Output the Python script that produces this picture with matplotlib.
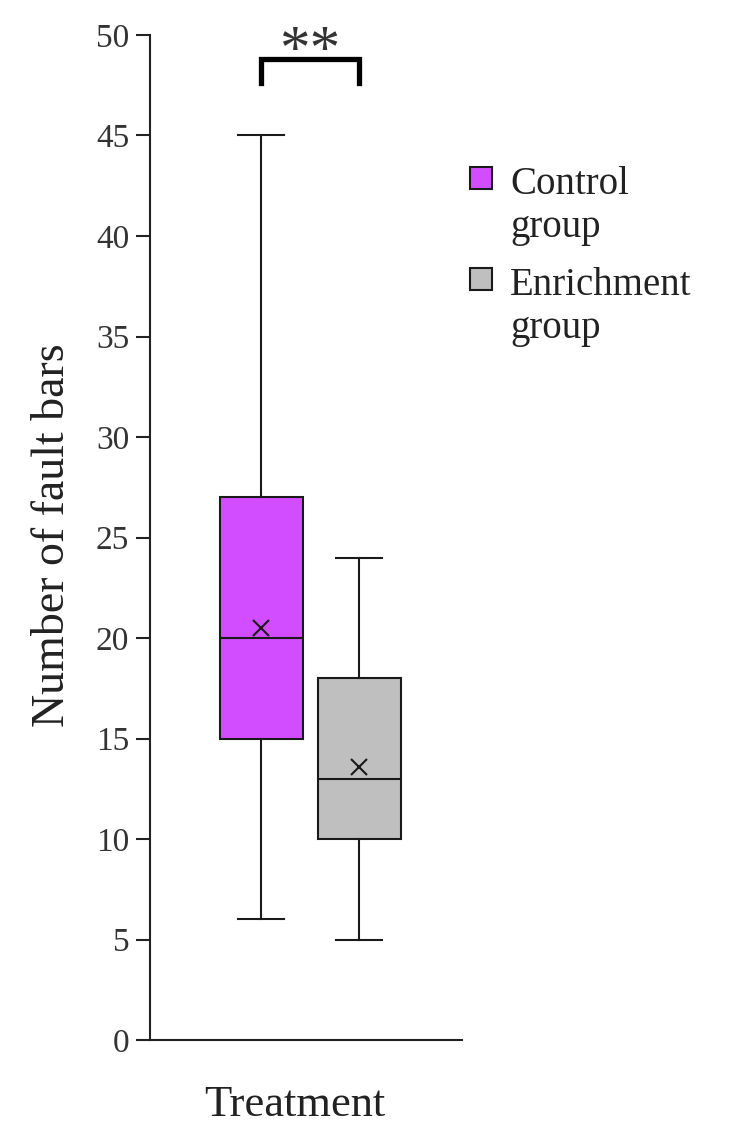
import matplotlib.pyplot as plt
from matplotlib.patches import Rectangle

plt.rcParams['font.family'] = ['Liberation Serif', 'DejaVu Serif']

groups     = ['Control\ngroup', 'Enrichment\ngroup']
colors     = ['#d24dff', '#bfbfbf']
whis_lo    = [6, 5]
q1         = [15, 10]
medians    = [20, 13]
q3         = [27, 18]
whis_hi    = [45, 24]
means      = [20.5, 13.6]
yticks     = [0, 5, 10, 15, 20, 25, 30, 35, 40, 45, 50]
sig_label  = '**'

W, H = 729, 1124
fig = plt.figure(figsize=(W/100., H/100.), dpi=100)
ax = fig.add_axes([150./W, 1-1040./H, 312./W, 1005./H])

positions = [0.356, 0.670]
stats = []
for i in range(len(groups)):
    stats.append(dict(med=medians[i], q1=q1[i], q3=q3[i],
                      whislo=whis_lo[i], whishi=whis_hi[i],
                      mean=means[i], fliers=[]))

lw = 1.5
bp = ax.bxp(stats, positions=positions, widths=0.266, capwidths=0.147,
            patch_artist=True, showmeans=True, showfliers=False,
            boxprops=dict(linewidth=lw, edgecolor='#1a1a1a'),
            medianprops=dict(color='#1a1a1a', linewidth=lw),
            whiskerprops=dict(color='#1a1a1a', linewidth=lw),
            capprops=dict(color='#1a1a1a', linewidth=lw),
            meanprops=dict(marker='x', markeredgecolor='#1a1a1a',
                           markersize=12, markeredgewidth=1.5))
for patch, c in zip(bp['boxes'], colors):
    patch.set_facecolor(c)

ax.set_xlim(0, 1)
ax.set_ylim(0, 50)
ax.set_yticks(yticks)
ax.tick_params(axis='y', labelsize=24, length=10, width=1.5, pad=5,
               colors='#222222', labelcolor='#333333')
ax.set_xticks([])
for s in ['top', 'right']:
    ax.spines[s].set_visible(False)
for s in ['left', 'bottom']:
    ax.spines[s].set_linewidth(1.5)
    ax.spines[s].set_color('#222222')

# significance bracket
by0, by1 = 47.6, 48.8
ax.plot([positions[0], positions[0], positions[1], positions[1]],
        [by0, by1, by1, by0], color='black', lw=3.8, clip_on=False,
        solid_joinstyle='miter')
ax.text(sum(positions)/2, 49.15, sig_label, ha='center', va='center',
        fontsize=44, color='#333333', clip_on=False)

# legend
leg_base = [194, 295]
for i, g in enumerate(groups):
    top = leg_base[i] - 27
    fig.add_artist(Rectangle((470./W, 1-(top+22.)/H), 22./W, 22./H,
                             transform=fig.transFigure, facecolor=colors[i],
                             edgecolor='#1a1a1a', lw=1.5))
    fig.text(510./W, 1-leg_base[i]/float(H), g.split('\n')[0], fontsize=28,
             color='#222222', va='baseline', ha='left')
    fig.text(510./W, 1-(leg_base[i]+43)/float(H), g.split('\n')[1],
             fontsize=28, color='#222222', va='baseline', ha='left')

fig.text(53./W, 1-535./H, 'Number of fault bars', rotation=90,
         ha='center', va='center', fontsize=33, color='#222222')
fig.text(295./W, 1-1116./H, 'Treatment', ha='center', va='baseline',
         fontsize=32, color='#222222')

fig.savefig('out.png', dpi=100)
